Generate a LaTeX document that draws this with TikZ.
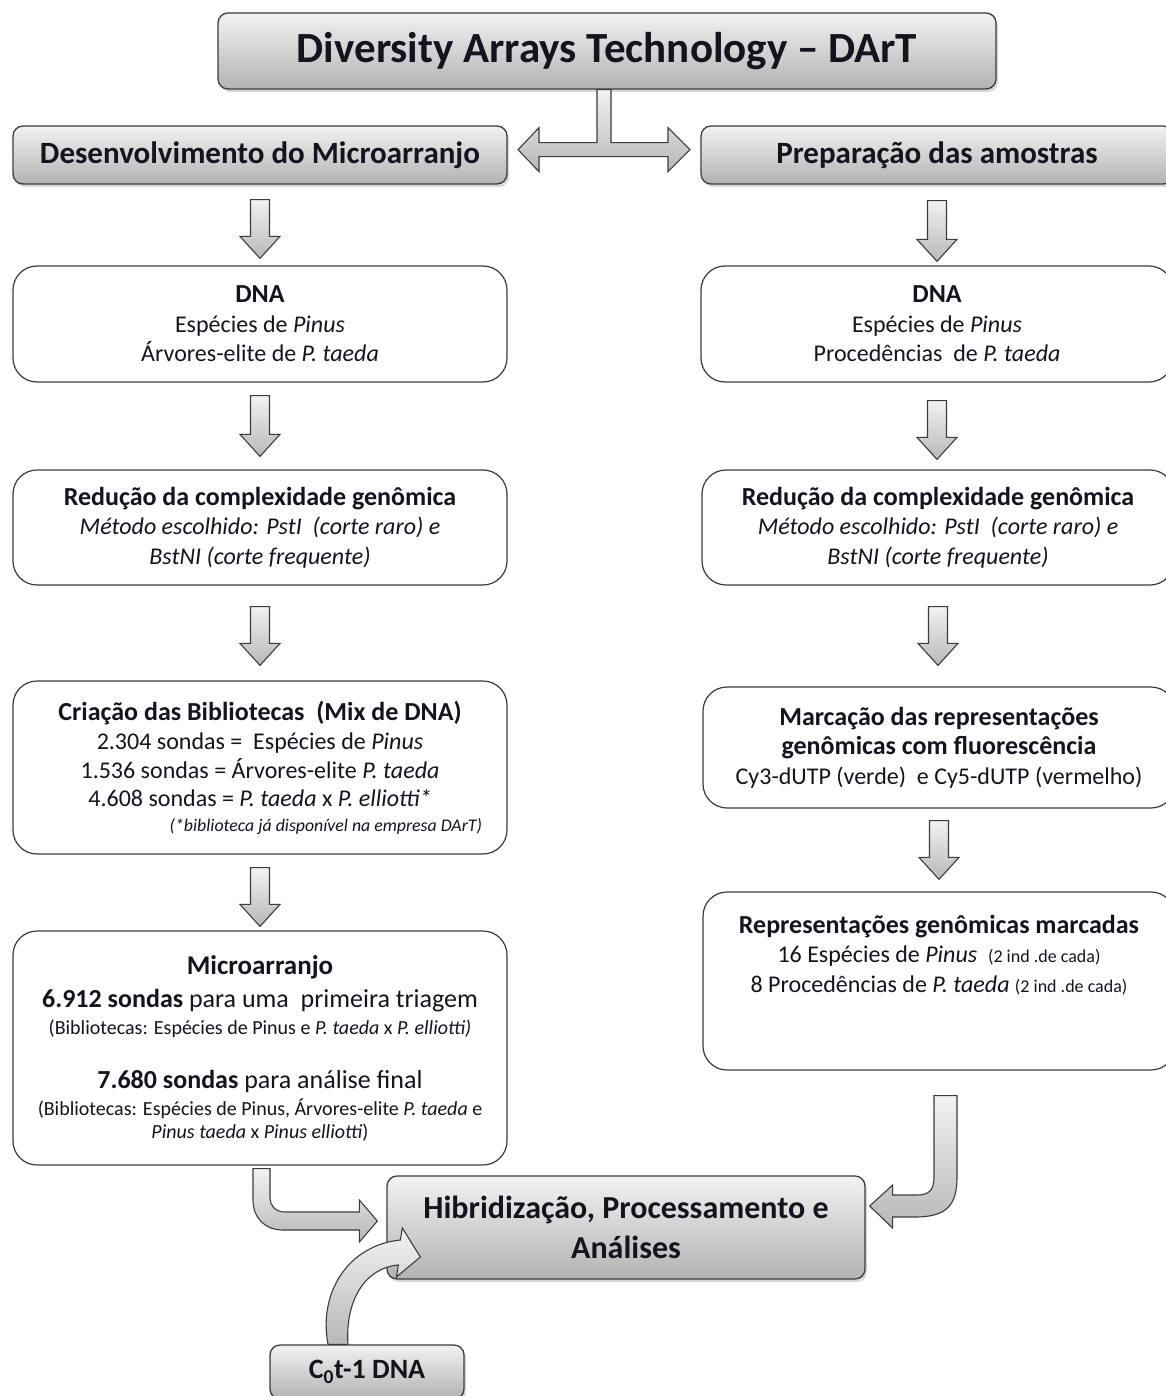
\documentclass[tikz,border=0pt]{standalone}
\usepackage{fontspec}
\usepackage{graphicx}
\setmainfont{Carlito}
\usetikzlibrary{shadows,calc}
\definecolor{bord}{HTML}{3C3C3C}
\definecolor{txt}{HTML}{141420}
\tikzset{
  graybox/.style={draw=bord, line width=1.3pt, rounded corners=10pt,
    top color=black!5, bottom color=black!30,
    drop shadow={opacity=0.3,shadow xshift=2pt,shadow yshift=-3pt},
    inner sep=0pt, align=center, text=txt},
  whitebox/.style={draw=bord, line width=1.2pt, rounded corners=24pt, fill=white,
    inner sep=0pt, align=center, text=txt, font=\fontsize{24}{29.5}\selectfont},
  blockarr/.style={draw=bord, line width=1.1pt, top color=black!5, bottom color=black!28, line join=miter},
}
\newcommand\hd[1]{{\fontsize{26}{29.5}\selectfont\bfseries #1}}
\newcommand\sm[1]{{\fontsize{20}{22}\selectfont #1}}
\newcommand\downarr[4]{%
  \draw[blockarr] let \p1=(#1.south), \p2=(#2.north) in
    (\x1-9.5pt,\y1-#3pt) -- (\x1+9.5pt,\y1-#3pt) -- (\x1+9.5pt,\y2+#4pt+22pt)
    -- (\x1+20pt,\y2+#4pt+22pt) -- (\x1,\y2+#4pt) -- (\x1-20pt,\y2+#4pt+22pt)
    -- (\x1-9.5pt,\y2+#4pt+22pt) -- cycle;}
\begin{document}
\begin{tikzpicture}[x=1pt,y=-1pt]
\useasboundingbox (0,0) rectangle (1166,1396);
\clip (0,0) rectangle (1166,1396);
\fill[white] (0,0) rectangle (1166,1396);

% title and headers
\node[graybox, minimum width=778, minimum height=76, font=\fontsize{43}{45}\selectfont\bfseries] (title) at (607,51) {Diversity Arrays Technology – DArT};
\node[graybox, minimum width=494, minimum height=58, font=\fontsize{31}{32}\selectfont\bfseries] (hleft) at (260,155) {Desenvolvimento do Microarranjo};
\node[graybox, minimum width=472, minimum height=58, font=\fontsize{31}{32}\selectfont\bfseries] (hright) at (937,155) {Preparação das amostras};

% left column
\node[whitebox, minimum width=494, minimum height=116] (dnaL) at (260,324)
  {\hd{DNA}\\ Espécies de \textit{Pinus}\\ Árvores-elite de \textit{P. taeda}};
\node[whitebox, minimum width=494, minimum height=115] (redL) at (260,527.5)
  {\hd{Redução da complexidade genômica}\\ \textit{Método escolhido: PstI\ \ (corte raro) e}\\ \textit{BstNI (corte frequente)}};
\node[whitebox, minimum width=494, minimum height=173] (criL) at (260,767.5)
  {\hd{Criação das Bibliotecas\ \ (Mix de DNA)}\\
   2.304\ sondas =\ \ Espécies de \textit{Pinus}\\[-0.5pt]
   1.536\ sondas = Árvores-elite \textit{P. taeda}\\[-1.5pt]
   4.608\ sondas = \textit{P. taeda} x \textit{P. elliotti*}\\[-5pt]
   \makebox[444pt][r]{\fontsize{17.8}{19}\selectfont\itshape (*biblioteca já disponível na empresa DArT)}};
\node[whitebox, minimum width=494, minimum height=234] (micL) at (260,1048)
  {{\fontsize{27}{29}\selectfont\bfseries Microarranjo}\\[3.5pt]
   {\fontsize{26}{29}\selectfont\textbf{6.912 sondas} para uma\ \ primeira triagem}\\[-2.5pt]
   \sm{(Bibliotecas: Espécies de Pinus e \textit{P. taeda} x \textit{P. elliotti)}}\\[24.5pt]
   {\fontsize{26}{29}\selectfont\textbf{7.680 sondas} para análise final}\\[-2.5pt]
   \sm{(Bibliotecas: Espécies de Pinus, Árvores-elite \textit{P. taeda} e}\\[-6.5pt]
   \sm{\textit{Pinus taeda} x \textit{Pinus elliotti})}};

% right column
\node[whitebox, minimum width=472, minimum height=116] (dnaR) at (937,324)
  {\hd{DNA}\\ Espécies de \textit{Pinus}\\ Procedências\ \ de \textit{P. taeda}};
\node[whitebox, minimum width=472, minimum height=115] (redR) at (938,527.5)
  {\hd{Redução da complexidade genômica}\\ \textit{Método escolhido: PstI\ \ (corte raro) e}\\ \textit{BstNI (corte frequente)}};
\node[whitebox, minimum width=472, minimum height=121] (marR) at (939,747.5)
  {\hd{Marcação das representações}\\ \hd{genômicas com fluorescência}\\ Cy3-dUTP (verde)\ \ e Cy5-dUTP (vermelho)};
\node[whitebox, minimum width=472, minimum height=178] (repR) at (939,981)
  {\hd{Representações genômicas marcadas}\\
   16 Espécies de \textit{Pinus}\ \ {\fontsize{18}{20}\selectfont (2 ind .de cada)}\\
   8 Procedências de \textit{P. taeda} {\fontsize{18}{20}\selectfont (2 ind .de cada)}\\[25pt]\mbox{}};

% bottom boxes
\node[graybox, minimum width=478, minimum height=103, font=\fontsize{32}{40}\selectfont\bfseries] (hib) at (626,1227.5)
  {Hibridização, Processamento e\\ Análises};
\node[graybox, minimum width=194, minimum height=54, font=\fontsize{28}{30}\selectfont\bfseries] (cot) at (367,1372)
  {C\textsubscript{0}t-1 DNA};

% double arrow from title to headers
\draw[blockarr] let \p1=(title.south) in
  (\x1-10pt,\y1) -- (\x1-10pt,\y1-53pt) -- (\x1-68pt,\y1-53pt) -- (\x1-68pt,\y1-38pt)
  -- (\x1-89pt,\y1-60pt) -- (\x1-68pt,\y1-82pt) -- (\x1-68pt,\y1-67pt)
  -- (\x1+61pt,\y1-67pt) -- (\x1+61pt,\y1-82pt) -- (\x1+83pt,\y1-60pt)
  -- (\x1+61pt,\y1-38pt) -- (\x1+61pt,\y1-53pt) -- (\x1+4pt,\y1-53pt) -- (\x1+4pt,\y1) -- cycle;

% down arrows
\downarr{hleft}{dnaL}{15}{7}
\downarr{dnaL}{redL}{13}{13}
\downarr{redL}{criL}{21}{15}
\downarr{criL}{micL}{13}{4}
\downarr{hright}{dnaR}{16}{4}
\downarr{dnaR}{redR}{18}{10}
\downarr{redR}{marR}{21}{21}
\downarr{marR}{repR}{12}{12}

% left bent arrow (micL -> hib)
\draw[blockarr] let \p1=(micL.south), \p2=(hib.west) in
  (\x1-7pt,\y1-3pt) -- (\x1-7pt,\y2+27.5pt)
  .. controls (\x1-7pt,\y2+9.5pt) and (\x1+5pt,\y2-2.5pt) .. (\x1+23pt,\y2-2.5pt)
  -- (\x2-27pt,\y2-2.5pt) -- (\x2-27pt,\y2-14.5pt) -- (\x2-9pt,\y2+6.5pt)
  -- (\x2-27pt,\y2+27.5pt) -- (\x2-27pt,\y2+15.5pt) -- (\x1+25pt,\y2+15.5pt)
  .. controls (\x1+15pt,\y2+15.5pt) and (\x1+10pt,\y2+22.5pt) .. (\x1+10pt,\y2+29.5pt)
  -- (\x1+10pt,\y1-3pt) -- cycle;

% right bent arrow (repR -> hib)
\draw[blockarr] let \p1=(repR.south), \p2=(hib.east) in
  (\x1+18pt,\y1-25pt) -- (\x1+18pt,\y2+50.5pt)
  .. controls (\x1+18pt,\y2+22.5pt) and (\x1+8pt,\y2+10.5pt) .. (\x1-24pt,\y2+10.5pt)
  -- (\x2+27pt,\y2+10.5pt) -- (\x2+27pt,\y2-0.5pt) -- (\x2+4pt,\y2+21.5pt)
  -- (\x2+27pt,\y2+42.5pt) -- (\x2+27pt,\y2+32.5pt) -- (\x1-22pt,\y2+32.5pt)
  .. controls (\x1-10pt,\y2+32.5pt) and (\x1-5pt,\y2+37.5pt) .. (\x1-5pt,\y2+50.5pt)
  -- (\x1-5pt,\y1-25pt) -- cycle;

% curved arrow (cot -> hib)
\draw[blockarr] let \p1=(cot.north), \p2=(hib.west) in
  (\x1-39pt,\y1) .. controls (\x1-49pt,\y1+53pt) and (\x2-37pt,\y2-17.5pt) .. (\x2+14pt,\y2-12.5pt)
  -- (\x2+16pt,\y2-0.5pt) -- (\x2+34pt,\y2-29.5pt) -- (\x2+10pt,\y2-49.5pt)
  -- (\x2+12pt,\y2-37.5pt)
  .. controls (\x2-22pt,\y2-40.5pt) and (\x1-22pt,\y1+43pt) .. (\x1-19pt,\y1) -- cycle;
\end{tikzpicture}
\end{document}
